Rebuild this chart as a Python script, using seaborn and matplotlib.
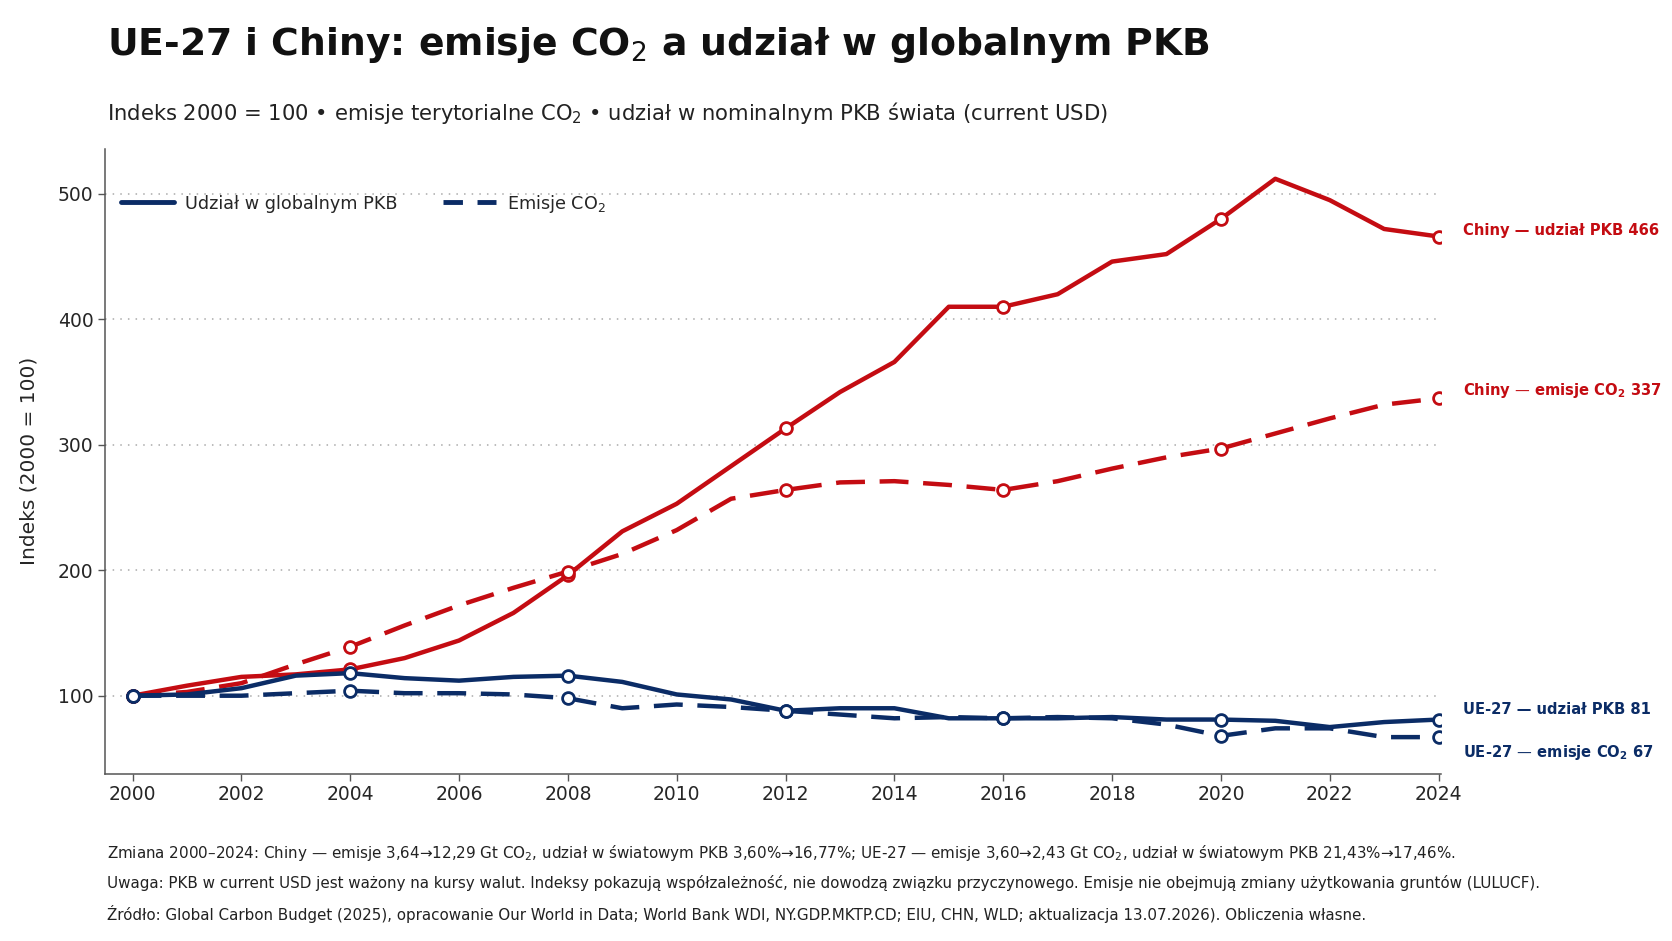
import matplotlib
matplotlib.use("Agg")
import matplotlib.pyplot as plt
from matplotlib.lines import Line2D
import seaborn as sns
import pandas as pd

years = list(range(2000, 2025))
china_gdp = [100, 108, 115, 117, 121, 130, 144, 166, 196, 231, 253, 283, 313, 342, 366,
             410, 410, 420, 446, 452, 480, 512, 495, 472, 466]
china_co2 = [100, 103, 110, 125, 139, 156, 172, 186, 199, 213, 232, 257, 264, 270, 271,
             268, 264, 271, 281, 290, 297, 309, 321, 332, 337]
eu_gdp = [100, 101, 106, 116, 118, 114, 112, 115, 116, 111, 101, 97, 88, 90, 90,
          82, 82, 82, 83, 81, 81, 80, 75, 79, 81]
eu_co2 = [100, 100, 100, 102, 104, 102, 102, 101, 98, 90, 93, 91, 88, 85, 82,
          83, 82, 83, 82, 77, 68, 74, 74, 67, 67]

end_labels = ["Chiny — udział PKB 466", "Chiny — emisje $\\mathbf{CO_2}$ 337",
              "UE-27 — udział PKB 81", "UE-27 — emisje $\\mathbf{CO_2}$ 67"]
xticks = list(range(2000, 2025, 2))
yticks = [100, 200, 300, 400, 500]

title = "UE-27 i Chiny: emisje CO$_2$ a udział w globalnym PKB"
subtitle = "Indeks 2000 = 100 • emisje terytorialne CO$_2$ • udział w nominalnym PKB świata (current USD)"
notes = [
    "Zmiana 2000–2024: Chiny — emisje 3,64→12,29 Gt CO$_2$, udział w światowym PKB 3,60%→16,77%; UE-27 — emisje 3,60→2,43 Gt CO$_2$, udział w światowym PKB 21,43%→17,46%.",
    "Uwaga: PKB w current USD jest ważony na kursy walut. Indeksy pokazują współzależność, nie dowodzą związku przyczynowego. Emisje nie obejmują zmiany użytkowania gruntów (LULUCF).",
    "Źródło: Global Carbon Budget (2025), opracowanie Our World in Data; World Bank WDI, NY.GDP.MKTP.CD; EIU, CHN, WLD; aktualizacja 13.07.2026). Obliczenia własne.",
]

RED = "#C40C12"
NAVY = "#0B2C66"

sns.set_style("white")
plt.rcParams["font.family"] = ["DejaVu Sans"]
plt.rcParams["mathtext.fontset"] = "dejavusans"

fig = plt.figure(figsize=(16.72, 9.41), dpi=100)
ax = fig.add_axes([0.063, 0.178, 0.799, 0.664])

df = pd.DataFrame({"rok": years, "cg": china_gdp, "cc": china_co2, "eg": eu_gdp, "ec": eu_co2})
series = [("cg", RED, "-"), ("cc", RED, "--"), ("eg", NAVY, "-"), ("ec", NAVY, "--")]
for col, colr, ls in series:
    kw = dict(color=colr, lw=3.2, marker="o", markevery=4, markersize=8.5,
              markerfacecolor="white", markeredgecolor=colr, markeredgewidth=2.0)
    if ls == "--":
        kw["dashes"] = (6.5, 3.3)
    sns.lineplot(data=df, x="rok", y=col, ax=ax, **kw)

ax.set_xlim(1999.5, 2024.05)
ax.set_ylim(38, 536)
ax.set_xticks(xticks)
ax.set_yticks(yticks)
ax.tick_params(axis="both", labelsize=13.5, length=5, width=1, color="#555555", direction="out",
               bottom=True, left=True)
ax.grid(axis="y", linestyle=(0, (1, 4)), color="#aaaaaa", lw=1.1)
ax.set_axisbelow(True)
for s in ["top", "right"]:
    ax.spines[s].set_visible(False)
for s in ["left", "bottom"]:
    ax.spines[s].set_color("#555555")
    ax.spines[s].set_linewidth(1.1)
ax.set_xlabel("")
ax.set_ylabel("Indeks (2000 = 100)", fontsize=14.5, labelpad=14)

# end labels
ends = [(china_gdp[-1] + 5, RED), (china_co2[-1] + 6, RED), (eu_gdp[-1] + 8, NAVY), (eu_co2[-1] - 12, NAVY)]
for (yv, colr), lab in zip(ends, end_labels):
    ax.text(2024.45, yv, lab, color=colr, fontsize=10.6, fontweight="bold", va="center", ha="left",
            clip_on=False)

handles = [Line2D([0], [0], color=NAVY, lw=3.5, ls="-"),
           Line2D([0], [0], color=NAVY, lw=3.5, dashes=(4, 3))]
leg = ax.legend(handles, ["Udział w globalnym PKB", "Emisje CO$_2$"], loc="upper left",
                bbox_to_anchor=(0.0, 0.955), ncol=2, frameon=False, fontsize=12.7,
                handlelength=3.0, columnspacing=2.6, handletextpad=0.6)

fig.text(0.064, 0.952, title, fontsize=27.2, fontweight="bold", va="center", ha="left", color="#111111")
fig.text(0.064, 0.880, subtitle, fontsize=15.2, va="center", ha="left", color="#222222")
for i, n in enumerate(notes):
    fig.text(0.064, 0.094 - i * 0.0325, n, fontsize=10.9, va="center", ha="left", color="#222222")

fig.savefig("out.png", dpi=100, facecolor="white")
